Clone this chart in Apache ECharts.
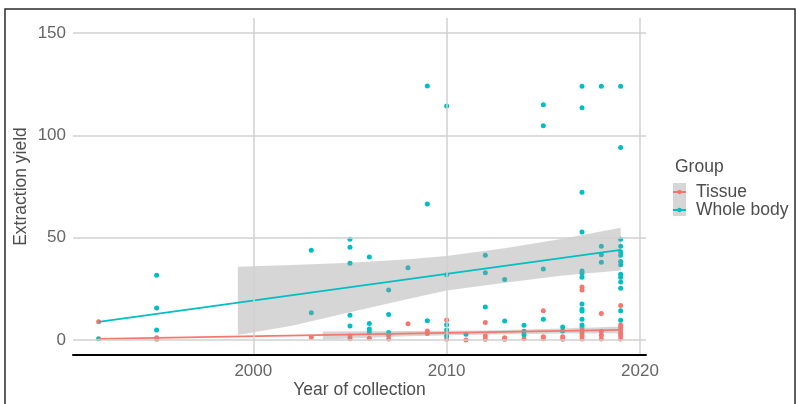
<!DOCTYPE html>
<html>
<head>
<meta charset="utf-8">
<script src="https://cdn.jsdelivr.net/npm/echarts@6/dist/echarts.min.js"></script>
<style>
  html, body { margin: 0; padding: 0; background: #ffffff; }
  #chart { width: 797px; height: 404px; }
</style>
</head>
<body>
<div id="chart"></div>
<script>
// ---- data ----
const xTicks = [2000, 2010, 2020];
const yTicks = [0, 50, 100, 150];

const tissuePoints = [
  [1992, 8.9], [1995, 0.4], [1995, 1.1], [2003, 1.4], [2005, 2.0], [2005, 0.6],
  [2006, 0.8], [2007, 2.4], [2007, 0.5], [2008, 8.0], [2009, 4.4], [2009, 3.2],
  [2010, 9.8], [2010, 0.4], [2011, 0.0], [2012, 8.6], [2012, 2.0], [2012, 0.4],
  [2013, 1.1], [2013, 0.4], [2014, 0.6], [2015, 14.3], [2015, 1.6], [2015, 0.6],
  [2016, 1.6], [2016, 0.4],
  [2017, 25.9], [2017, 24.4], [2017, 6.2], [2017, 4.9], [2017, 3.3], [2017, 2.0], [2017, 0.5],
  [2018, 12.9], [2018, 4.1], [2018, 2.3], [2018, 0.5],
  [2019, 16.8], [2019, 7.3], [2019, 6.2], [2019, 5.0], [2019, 3.3], [2019, 2.1], [2019, 0.5]
];

const wholeBodyPoints = [
  [1992, 0.6], [1995, 31.6], [1995, 15.6], [1995, 4.9],
  [2003, 43.8], [2003, 13.3],
  [2005, 49.2], [2005, 45.3], [2005, 37.5], [2005, 12.1], [2005, 6.8],
  [2006, 40.5], [2006, 8.1], [2006, 5.4], [2006, 3.9],
  [2007, 24.4], [2007, 12.5], [2007, 3.7],
  [2008, 35.3],
  [2009, 124.1], [2009, 66.4], [2009, 9.4],
  [2010, 114.3], [2010, 31.9], [2010, 7.5], [2010, 4.9], [2010, 1.9],
  [2011, 2.8],
  [2012, 41.4], [2012, 32.9], [2012, 16.1],
  [2013, 29.5], [2013, 9.3],
  [2014, 7.2], [2014, 4.3], [2014, 2.6],
  [2015, 114.9], [2015, 104.7], [2015, 34.7], [2015, 10.1],
  [2016, 6.4], [2016, 4.4],
  [2017, 124.0], [2017, 113.5], [2017, 72.2], [2017, 52.8], [2017, 33.7], [2017, 32.6],
  [2017, 30.6], [2017, 17.6], [2017, 15.0], [2017, 14.2], [2017, 10.1], [2017, 7.3],
  [2018, 124.0], [2018, 45.8], [2018, 41.7], [2018, 38.0],
  [2019, 124.0], [2019, 94.0], [2019, 49.2], [2019, 45.8], [2019, 43.1], [2019, 41.4],
  [2019, 38.3], [2019, 36.8], [2019, 32.1], [2019, 30.6], [2019, 28.3], [2019, 25.3],
  [2019, 14.3], [2019, 9.6]
];

const tissueFit = [[1992, 0.5], [2019, 4.9]];
const wholeBodyFit = [[1992, 8.9], [2019, 44.0]];

const wholeBandYears = [1999.2, 2002, 2005, 2008, 2010, 2013, 2016, 2019];
const wholeBandLower = [2.4, 7.0, 13.5, 20.0, 24.2, 28.0, 31.5, 33.9];
const wholeBandUpper = [35.8, 36.6, 37.8, 39.5, 41.0, 44.8, 49.5, 54.9];

const tissueBandYears = [2003.6, 2008, 2012, 2016, 2019];
const tissueBandLower = [0.2, 1.8, 2.7, 3.2, 3.3];
const tissueBandUpper = [4.2, 4.4, 4.7, 5.6, 6.6];

// ---- styles ----
const RED = '#F8766D';
const TEAL = '#00BFC4';
const FONT = 'Liberation Sans, Arial, sans-serif';

function bandSeries(name, years, lower, upper) {
  return {
    type: 'custom',
    name: name,
    z: 3,
    silent: true,
    clip: true,
    data: [[years[0], lower[0]]],
    renderItem: function (params, api) {
      const pts = [];
      for (let i = 0; i < years.length; i++) pts.push(api.coord([years[i], upper[i]]));
      for (let i = years.length - 1; i >= 0; i--) pts.push(api.coord([years[i], lower[i]]));
      return {
        type: 'polygon',
        shape: { points: pts },
        style: { fill: '#999999', opacity: 0.4 }
      };
    }
  };
}

const keyIcon = 'path://M0,0L0.01,0L0.01,0.01Z M13,12.99L13,13L12.99,13Z M0,5.6L13,5.6L13,7.4L0,7.4Z M8.7,6.5A2.2,2.2,0,1,1,4.3,6.5A2.2,2.2,0,1,1,8.7,6.5Z';

const chart = echarts.init(document.getElementById('chart'), null, { renderer: 'canvas' });
chart.setOption({
  animation: false,
  backgroundColor: '#ffffff',
  textStyle: { fontFamily: FONT },
  grid: { left: 73, top: 18, width: 573, height: 337, containLabel: false },
  xAxis: {
    type: 'value',
    min: 1990.675,
    max: 2020.31,
    z: 10,
    name: 'Year of collection',
    nameLocation: 'middle',
    nameGap: 26,
    nameMoveOverlap: false,
    nameTextStyle: { fontSize: 17.5, color: '#4d4d4d', fontFamily: FONT },
    axisLine: { show: true, onZero: false, lineStyle: { color: '#000000', width: 2 } },
    axisTick: { show: false },
    splitLine: { show: false },
    axisLabel: {
      customValues: xTicks,
      formatter: v => String(v),
      fontSize: 17,
      color: '#666666',
      margin: 8,
      fontFamily: FONT
    }
  },
  yAxis: {
    type: 'value',
    min: -7.33,
    max: 157.33,
    name: 'Extraction yield',
    nameLocation: 'middle',
    nameGap: 42.5,
    nameMoveOverlap: false,
    nameTextStyle: { fontSize: 17.5, color: '#4d4d4d', fontFamily: FONT },
    axisLine: { show: false, onZero: false },
    axisTick: { show: false },
    splitLine: { show: false },
    axisLabel: {
      customValues: yTicks,
      formatter: v => String(v),
      fontSize: 17,
      color: '#666666',
      margin: 7,
      fontFamily: FONT
    }
  },
  legend: {
    orient: 'vertical',
    left: 673,
    top: 183,
    z: 5,
    padding: 0,
    itemWidth: 13,
    itemHeight: 13,
    itemGap: 0,
    icon: keyIcon,
    data: ['Tissue', 'Whole body'],
    textStyle: { fontSize: 17.5, lineHeight: 17, color: '#4d4d4d', fontFamily: FONT, padding: [0, 0, 0, 5] },
    selectedMode: false
  },
  graphic: [
    { type: 'rect', z: 0, shape: { x: 673, y: 183, width: 13, height: 33 }, style: { fill: '#d6d6d6' } },
    { type: 'text', z: 0, x: 675, y: 167, style: { text: 'Group', fontSize: 17.5, fill: '#4d4d4d', fontFamily: FONT, verticalAlign: 'middle', align: 'left' } },
    { type: 'rect', z: 0, shape: { x: 5, y: 9, width: 790, height: 410 }, style: { fill: 'none', stroke: '#2b2b2b', lineWidth: 1.5 } }
  ],
  series: [
    {
      type: 'line',
      name: 'grid',
      z: 1,
      silent: true,
      data: [],
      markLine: {
        silent: true,
        symbol: ['none', 'none'],
        label: { show: false },
        lineStyle: { color: '#d0d0d0', width: 1.5, type: 'solid' },
        emphasis: { disabled: true },
        data: xTicks.map(v => ({ xAxis: v })).concat(yTicks.map(v => ({ yAxis: v })))
      }
    },
    {
      type: 'scatter',
      name: 'Tissue',
      z: 2,
      symbolSize: 5,
      itemStyle: { color: RED, opacity: 1 },
      data: tissuePoints
    },
    {
      type: 'scatter',
      name: 'Whole body',
      z: 2,
      symbolSize: 5,
      itemStyle: { color: TEAL, opacity: 1 },
      data: wholeBodyPoints
    },
    bandSeries('Tissue band', tissueBandYears, tissueBandLower, tissueBandUpper),
    bandSeries('Whole body band', wholeBandYears, wholeBandLower, wholeBandUpper),
    {
      type: 'line',
      name: 'Tissue fit',
      z: 4,
      symbol: 'none',
      lineStyle: { color: RED, width: 1.8 },
      data: tissueFit
    },
    {
      type: 'line',
      name: 'Whole body fit',
      z: 4,
      symbol: 'none',
      lineStyle: { color: TEAL, width: 1.8 },
      data: wholeBodyFit
    }
  ]
});
</script>
</body>
</html>
